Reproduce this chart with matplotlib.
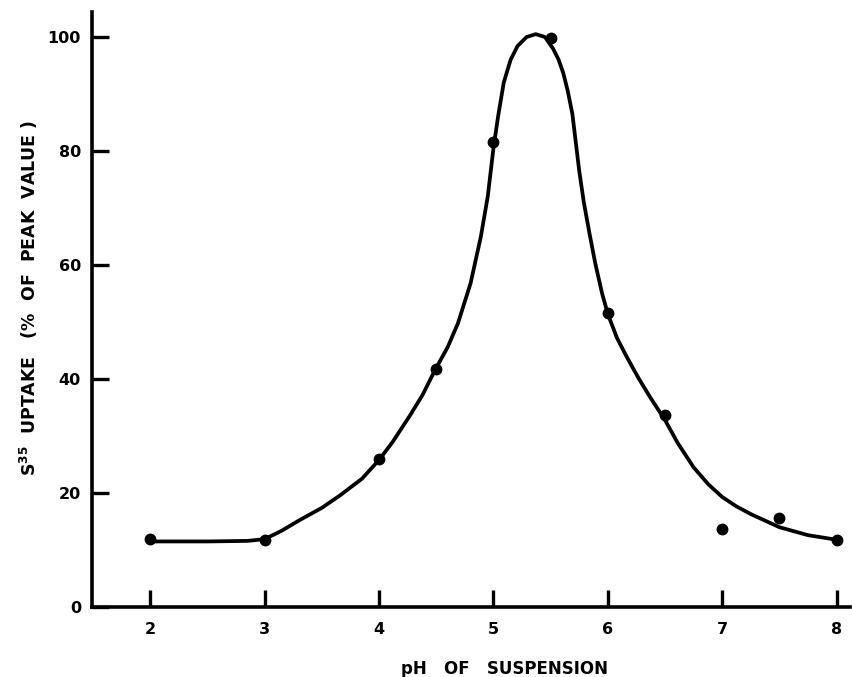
import matplotlib.pyplot as plt

# measured points
ph = [2.0, 3.0, 4.0, 4.5, 5.0, 5.5, 6.0, 6.5, 7.0, 7.5, 8.0]
uptake = [12.0, 11.8, 26.0, 41.8, 81.6, 99.8, 51.6, 33.7, 13.7, 15.6, 11.8]

# hand-drawn curve
curve_ph = [2.0, 2.5, 2.85, 3.0, 3.15, 3.31, 3.5, 3.66, 3.85, 4.0, 4.12,
            4.27, 4.38, 4.49, 4.6, 4.69, 4.8, 4.89, 4.95, 5.0, 5.04, 5.09,
            5.15, 5.21, 5.29, 5.37, 5.45, 5.52, 5.57, 5.61, 5.65, 5.69,
            5.72, 5.75, 5.79, 5.84, 5.89, 5.95, 6.0, 6.08, 6.17, 6.27, 6.37,
            6.5, 6.61, 6.75, 6.88, 7.0, 7.12, 7.25, 7.5, 7.75, 8.0]
curve_uptake = [11.5, 11.5, 11.6, 11.9, 13.4, 15.3, 17.4, 19.6, 22.5, 25.8,
                29.0, 33.6, 37.2, 41.6, 45.6, 49.8, 56.8, 65.0, 72.0, 80.5,
                86.0, 92.0, 96.0, 98.4, 100.0, 100.5, 100.0, 98.0, 96.0,
                93.7, 90.5, 86.5, 81.5, 76.5, 71.0, 65.5, 60.3, 55.0, 51.4,
                47.2, 43.7, 40.1, 36.8, 32.8, 28.8, 24.5, 21.5, 19.3, 17.7,
                16.3, 14.0, 12.6, 11.8]

xticks = [2, 3, 4, 5, 6, 7, 8]
yticks = [0, 20, 40, 60, 80, 100]

plt.rcParams['font.family'] = ['DejaVu Sans']

fig = plt.figure(figsize=(8.52, 6.77), dpi=100)
ax = fig.add_axes([0.108, 0.1034, 0.89, 0.879])

ax.plot(curve_ph, curve_uptake, color='black', linewidth=2.7,
        solid_capstyle='round', solid_joinstyle='round')
ax.plot(ph, uptake, 'o', color='black', markersize=7.5)

ax.set_xlim(1.49, 8.12)
ax.set_ylim(0, 104.4)
ax.set_xticks(xticks)
ax.set_yticks(yticks)

for side in ['top', 'right']:
    ax.spines[side].set_visible(False)
for side in ['left', 'bottom']:
    ax.spines[side].set_linewidth(2.6)

ax.tick_params(axis='x', direction='in', length=12, width=2.4, pad=11,
               labelsize=11.5)
ax.tick_params(axis='y', direction='in', length=12, width=2.4, pad=8,
               labelsize=11.5)
for lbl in ax.get_xticklabels() + ax.get_yticklabels():
    lbl.set_fontweight('bold')

ax.set_xlabel('pH   OF   SUSPENSION', fontsize=12, fontweight='bold')
ax.xaxis.set_label_coords(0.5435, -0.089)
ax.set_ylabel(r'S$^{\mathbf{35}}$  UPTAKE   (%  OF  PEAK  VALUE )',
              fontsize=12.5, fontweight='bold')
ax.yaxis.set_label_coords(-0.068, 0.52)

fig.savefig('out.png', dpi=100)
